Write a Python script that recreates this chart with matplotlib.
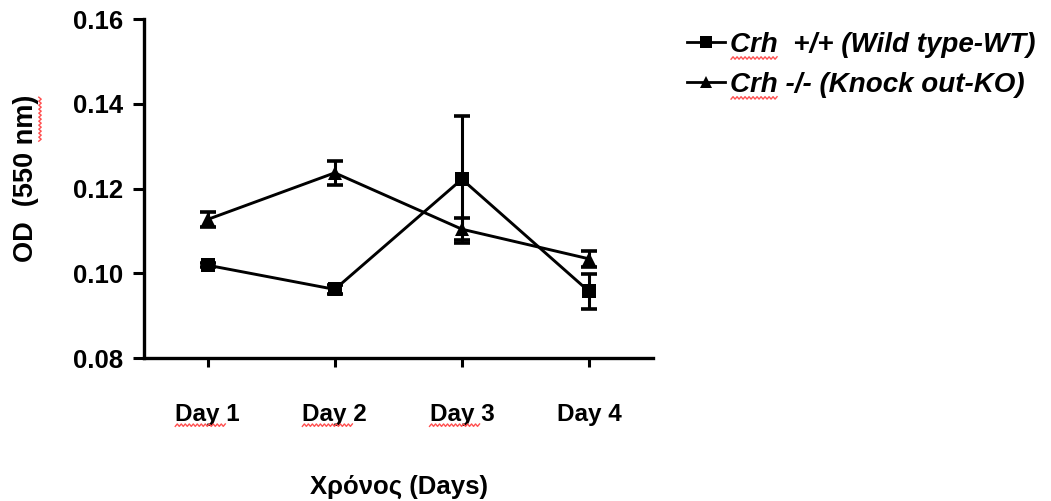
import matplotlib
matplotlib.use("Agg")
import matplotlib.pyplot as plt
import numpy as np
from matplotlib.lines import Line2D
from matplotlib.ticker import FormatStrFormatter

plt.rcParams['font.family'] = ['Liberation Sans', 'DejaVu Sans']
plt.rcParams['font.weight'] = 'bold'

# OD readings per day, mean and error
days = ["Day 1", "Day 2", "Day 3", "Day 4"]
wt_mean = [0.1019, 0.0962, 0.1222, 0.0957]
wt_err = [0.0005, 0.0010, 0.0150, 0.0042]
ko_mean = [0.1127, 0.1237, 0.1104, 0.1034]
ko_err = [0.0018, 0.0029, 0.0026, 0.0019]
wt_label = "Crh  +/+ (Wild type-WT)"
ko_label = "Crh -/- (Knock out-KO)"

W, H = 1051, 501
fig = plt.figure(figsize=(W / 100, H / 100), dpi=100)
ax = fig.add_axes([0.137, 0.2854, 0.484, 0.6766])

x = list(range(1, len(days) + 1))

for mean, err, marker in [(wt_mean, wt_err, 's'), (ko_mean, ko_err, '^')]:
    ax.errorbar(x, mean, yerr=err, fmt='none', ecolor='black',
                elinewidth=2.2, capsize=6, capthick=2.6, zorder=3)
    ax.plot(x, mean, color='black', lw=2.1, marker=marker, ms=10.5,
            markeredgewidth=0, zorder=4)

ax.set_xlim(0.5, 4.5)
ax.set_ylim(0.08, 0.16)
ax.set_yticks([0.08, 0.10, 0.12, 0.14, 0.16])
ax.yaxis.set_major_formatter(FormatStrFormatter('%.2f'))
ax.set_xticks(x)
ax.set_xticklabels(days)

for side in ['top', 'right']:
    ax.spines[side].set_visible(False)
for side in ['left', 'bottom']:
    ax.spines[side].set_linewidth(2.4)

ax.tick_params(axis='y', length=8, width=2.2, pad=7, labelsize=18.5)
ax.tick_params(axis='x', length=6.5, width=2.2, pad=26, labelsize=17.5)
for lab in ax.get_xticklabels() + ax.get_yticklabels():
    lab.set_fontweight('bold')

fig.text(398.5 / W, 1 - 487 / H, "Χρόνος (Days)", ha='center', va='center',
         fontsize=18.5, fontweight='bold')
ylab = fig.text(26 / W, 1 - 178 / H, "OD  (550 nm)", ha='center', va='center',
                rotation=90, fontsize=19.5, fontweight='bold')

handles = [Line2D([], [], color='black', lw=2, marker='s', ms=9, markeredgewidth=0),
           Line2D([], [], color='black', lw=2, marker='^', ms=9, markeredgewidth=0)]
leg = fig.legend(handles, [wt_label, ko_label], loc='upper left',
                 bbox_to_anchor=(687 / W, 1 - 32 / H), frameon=False,
                 borderpad=0, borderaxespad=0, handlelength=1.35,
                 handletextpad=0.2, labelspacing=0.5,
                 prop={'size': 20, 'weight': 'bold', 'style': 'italic'})


# red wavy spell-check underline, in pixel coordinates
def squiggle(a0, a1, b, vertical=False):
    t = np.arange(a0, a1 + 0.1, 2.0)
    w = b + np.where(np.arange(len(t)) % 2 == 0, -1.2, 1.2)
    xs, ys = (w, t) if vertical else (t, w)
    fig.add_artist(Line2D(xs / W, ys / H, transform=fig.transFigure,
                          color='#ff4f4f', lw=1.0))


fig.canvas.draw()
r = fig.canvas.get_renderer()
for lab in ax.get_xticklabels()[:3]:
    bb = lab.get_window_extent(r)
    squiggle(bb.x0, bb.x0 + 0.8 * bb.width, bb.y0 + 1)
for txt in leg.get_texts():
    bb = txt.get_window_extent(r)
    squiggle(bb.x0 + 1, bb.x0 + 0.16 * bb.width, bb.y0)
bb = ylab.get_window_extent(r)
squiggle(bb.y1 - 0.28 * bb.height, bb.y1 - 2, bb.x1 + 1, vertical=True)

fig.savefig("out.png", dpi=100)
